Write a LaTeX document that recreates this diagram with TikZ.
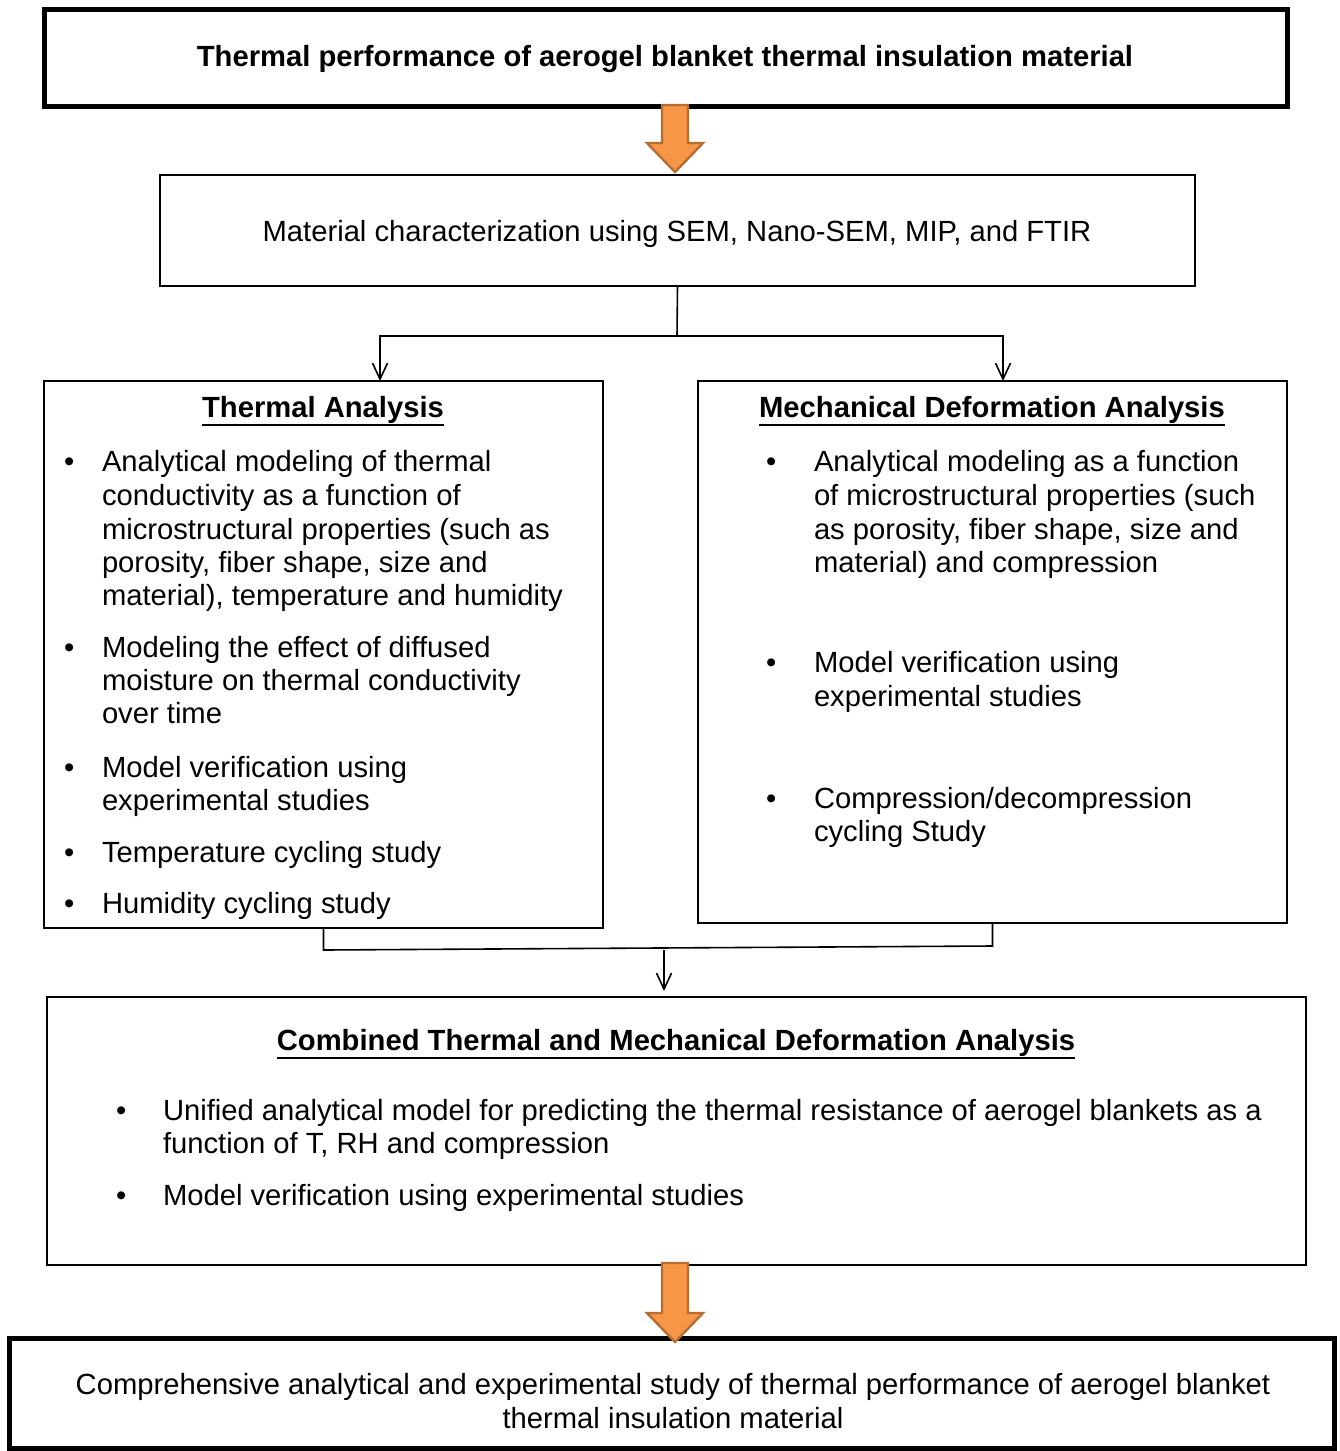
\documentclass[tikz,border=0pt]{standalone}
\usepackage{fontspec}
\setmainfont{Liberation Sans}
\usetikzlibrary{arrows.meta,calc}
\definecolor{orfill}{RGB}{247,150,70}
\definecolor{ordraw}{RGB}{182,109,49}
\begin{document}
\begin{tikzpicture}[x=0.5pt,y=-0.5pt,
  every node/.style={font=\fontsize{14.6}{16.9}\selectfont, inner sep=0pt, outer sep=0pt},
  thickbox/.style={draw, line width=2.5pt},
  box/.style={draw, line width=1pt},
  txt/.style={anchor=base west},
  ctxt/.style={anchor=base},
  head/.style={anchor=base, font=\fontsize{14.6}{16.9}\selectfont\bfseries},
  uline/.style={line width=1.4pt},
  conn/.style={line width=0.8pt},
  arr/.style={conn, -{Straight Barb[length=8pt,width=7.5pt,line width=0.8pt]}},
  fat/.style={fill=orfill, draw=ordraw, line width=1.2pt, line join=miter}]
\useasboundingbox (0,0) rectangle (1339,1451);

% ---------- boxes ----------
\node[thickbox, minimum width=621.5pt, minimum height=48.5pt] (top) at (666,58) {};
\node[box, minimum width=517.5pt, minimum height=55.5pt] (mat) at (677.5,230.5) {};
\node[box, minimum width=279.5pt, minimum height=273.5pt] (therm) at (323.5,654.5) {};
\node[box, minimum width=294.5pt, minimum height=271pt] (mech) at (992.5,652) {};
\node[box, minimum width=629.5pt, minimum height=134pt] (comb) at (676.5,1131) {};
\node[thickbox, minimum width=662.25pt, minimum height=55pt] (fin) at (671.75,1393) {};

% ---------- texts ----------
\node[head] (ttop) at (665,66) {Thermal performance of aerogel blanket thermal insulation material};
\node[ctxt] (tmat) at (677,241) {Material characterization using SEM, Nano-SEM, MIP, and FTIR};

\node[head] (hth) at (323,417) {Thermal Analysis};
\node[txt] (b1) at (64,471) {•};
\node[txt] (t1a) at (102,471) {Analytical modeling of thermal};
\node[txt] (t1b) at (102,505) {conductivity as a function of};
\node[txt] (t1c) at (102,539) {microstructural properties (such as};
\node[txt] (t1d) at (102,572) {porosity, fiber shape, size and};
\node[txt] (t1e) at (102,605) {material), temperature and humidity};
\node[txt] (b2) at (64,657) {•};
\node[txt] (t2a) at (102,657) {Modeling the effect of diffused};
\node[txt] (t2b) at (102,690) {moisture on thermal conductivity};
\node[txt] (t2c) at (102,723) {over time};
\node[txt] (b3) at (64,777) {•};
\node[txt] (t3a) at (102,777) {Model verification using};
\node[txt] (t3b) at (102,810) {experimental studies};
\node[txt] (b4) at (64,862) {•};
\node[txt] (t4a) at (102,862) {Temperature cycling study};
\node[txt] (b5) at (64,913) {•};
\node[txt] (t5a) at (102,913) {Humidity cycling study};

\node[head] (hme) at (992,417) {Mechanical Deformation Analysis};
\node[txt] (m1) at (766,471) {•};
\node[txt] (m1a) at (814,471) {Analytical modeling as a function};
\node[txt] (m1b) at (814,505) {of microstructural properties (such};
\node[txt] (m1c) at (814,539) {as porosity, fiber shape, size and};
\node[txt] (m1d) at (814,572) {material) and compression};
\node[txt] (m2) at (766,672) {•};
\node[txt] (m2a) at (814,672) {Model verification using};
\node[txt] (m2b) at (814,706) {experimental studies};
\node[txt] (m3) at (766,808) {•};
\node[txt] (m3a) at (814,808) {Compression/decompression};
\node[txt] (m3b) at (814,841) {cycling Study};

\node[head] (hco) at (676,1050) {Combined Thermal and Mechanical Deformation Analysis};
\node[txt] (c1) at (116,1120) {•};
\node[txt] (c1a) at (163,1120) {Unified analytical model for predicting the thermal resistance of aerogel blankets as a};
\node[txt] (c1b) at (163,1153) {function of T, RH and compression};
\node[txt] (c2) at (116,1205) {•};
\node[txt] (c2a) at (163,1205) {Model verification using experimental studies};

\node[ctxt] (tf1) at (673,1394) {Comprehensive analytical and experimental study of thermal performance of aerogel blanket};
\node[ctxt] (tf2) at (673,1428) {thermal insulation material};

% ---------- heading underlines ----------
\foreach \h in {hth, hme, hco}{
  \draw[uline] ($(\h.base west)+(0,8)$) -- ($(\h.base east)+(0,8)$);
}

% ---------- connectors ----------
\coordinate (split) at (677,336);
\draw[conn] (mat.south) -- (split);
\draw[arr] (split) -| ($(therm.north west)+(336,0)$);
\draw[arr] (split) -| ($(mech.north west)+(305,0)$);

\coordinate (jl) at (323.5,950);
\coordinate (jr) at (992.5,946);
\coordinate (jm) at (664,950);
\draw[conn] (therm.south) -- (jl) -- (jr) -- (mech.south);
\draw[arr, shorten >=3pt] (jm) -- (jm |- comb.north);

% ---------- orange block arrows ----------
\coordinate (fa1s) at (675,105);
\coordinate (fa1e) at (675,172);
\coordinate (fa2s) at (675,1263);
\coordinate (fa2e) at (675,1342);
\foreach \s/\e in {fa1s/fa1e, fa2s/fa2e}{
  \filldraw[fat] ($(\s)+(-13,0)$) -- ($(\s)+(13,0)$) -- ($(\e)+(13,-29)$) -- ($(\e)+(28,-29)$)
    -- (\e) -- ($(\e)+(-28,-29)$) -- ($(\e)+(-13,-29)$) -- cycle;
}
\end{tikzpicture}
\end{document}
